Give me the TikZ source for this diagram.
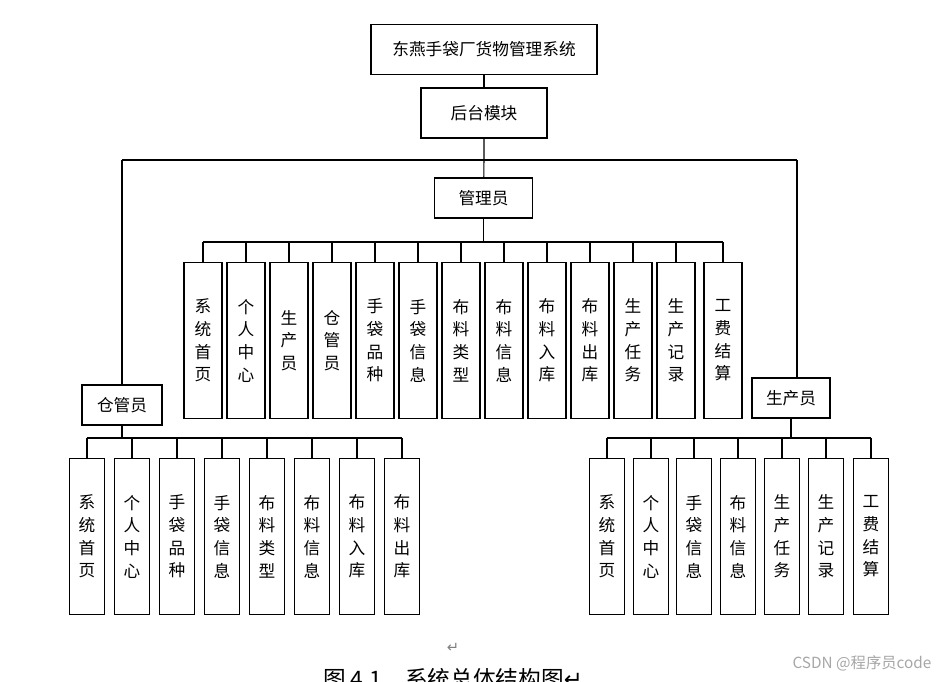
\documentclass[tikz,border=0pt]{standalone}
\usepackage{fontspec}
\newfontfamily\cjk{Noto Sans CJK SC}
\newfontfamily\dv{DejaVu Sans}
\begin{document}
\begin{tikzpicture}[x=0.75pt,y=-0.75pt,
  box/.style={draw,line width=0.8pt,inner sep=0pt,font=\cjk\fontsize{12.5}{15}\selectfont},
  vbox/.style={draw,line width=0.8pt,inner sep=0pt,anchor=north,minimum width=26.5pt,minimum height=117pt,align=center,font=\cjk\fontsize{12.5}{17}\selectfont},
  ln/.style={line width=0.8pt}]
\useasboundingbox (0,0) rectangle (951,682);
\node[box,minimum width=169.5pt,minimum height=38pt] (top) at (484,49.5) {东燕手袋厂货物管理系统};
\node[box,minimum width=94.5pt,minimum height=37.5pt] (ht) at (484,113) {后台模块};
\node[box,minimum width=73pt,minimum height=30pt] (gly) at (483.5,198) {管理员};
\node[box,minimum width=60pt,minimum height=30pt] (cgy) at (122,405) {仓管员};
\node[box,minimum width=58.5pt,minimum height=30pt] (scy) at (791,398) {生产员};
\draw[ln] (top) -- (ht);
\coordinate (hb) at (484,160);
\coordinate (hl) at (122,160);
\coordinate (hr) at (797,160);
\draw[ln] (ht) -- (hb) -- (gly);
\draw[ln] (hl) -- (hr);
\draw[ln] (hl) -- (hl|-cgy.north);
\draw[ln] (hr) -- (hr|-scy.north);
% admin
\coordinate (ga) at (203,242); \coordinate (gb) at (723,242);
\draw[ln] (gly) -- (gly.south|-ga);
\draw[ln] (ga) -- (gb);
\foreach \x/\t [count=\i] in {203/{系\\统\\首\\页},246/{个\\人\\中\\心},289/{生\\产\\员},332/{仓\\管\\员},375/{手\\袋\\品\\种},418/{手\\袋\\信\\息},461/{布\\料\\类\\型},504/{布\\料\\信\\息},547/{布\\料\\入\\库},590/{布\\料\\出\\库},633/{生\\产\\任\\务},676/{生\\产\\记\\录},723/{工\\费\\结\\算}}{
  \node[vbox,minimum width=28.5pt] (a\i) at (\x,262) {\t};
  \coordinate (ta\i) at (\x,242);
  \draw[ln] (ta\i) -- (a\i.north);
}
% warehouse
\coordinate (ca) at (87,438); \coordinate (cb) at (402,438);
\draw[ln] (cgy) -- (cgy.south|-ca);
\draw[ln] (ca) -- (cb);
\foreach \x/\t [count=\i] in {87/{系\\统\\首\\页},132/{个\\人\\中\\心},177/{手\\袋\\品\\种},222/{手\\袋\\信\\息},267/{布\\料\\类\\型},312/{布\\料\\信\\息},357/{布\\料\\入\\库},402/{布\\料\\出\\库}}{
  \node[vbox] (c\i) at (\x,458) {\t};
  \coordinate (tc\i) at (\x,438);
  \draw[ln] (tc\i) -- (c\i.north);
}
% production
\coordinate (sa) at (607,438); \coordinate (sb) at (871,438);
\draw[ln] (scy) -- (scy.south|-sa);
\draw[ln] (sa) -- (sb);
\foreach \x/\t [count=\i] in {607/{系\\统\\首\\页},651/{个\\人\\中\\心},694/{手\\袋\\信\\息},738/{布\\料\\信\\息},782/{生\\产\\任\\务},826/{生\\产\\记\\录},871/{工\\费\\结\\算}}{
  \node[vbox] (s\i) at (\x,458) {\t};
  \coordinate (ts\i) at (\x,438);
  \draw[ln] (ts\i) -- (s\i.north);
}
\node[font=\dv\fontsize{11}{12}\selectfont,text=gray] (ret) at (453,648) {↵};
\node[font=\cjk\fontsize{17}{18}\selectfont,anchor=north] (cap) at (453,664) {图 4.1\quad 系统总体结构图{\dv↵}};
\node[font=\cjk\fontsize{11.5}{12}\selectfont,text=gray!70] (wm) at (862,663) {CSDN @程序员code};
\end{tikzpicture}
\end{document}
